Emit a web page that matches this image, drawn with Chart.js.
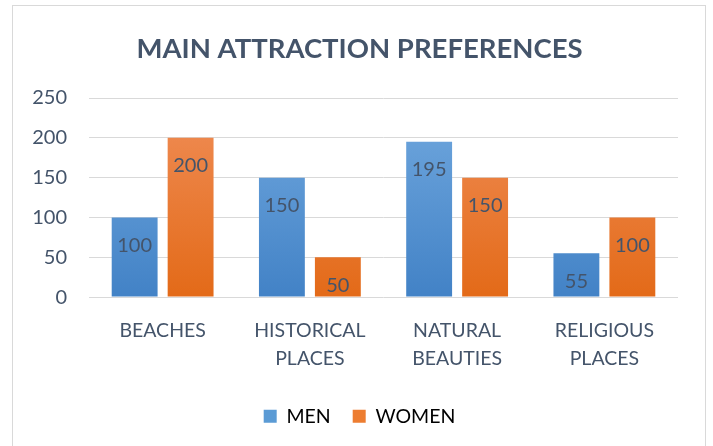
<!DOCTYPE html>
<html lang="en">
<head>
  <meta charset="UTF-8" />
  <title>Main Attraction Preferences</title>
  <style>
    body { margin: 0; background: #fff; }
    .frame {
      position: absolute;
      left: 12px;
      top: 5px;
      width: 692px;
      height: 446px;
      border: 1px solid #d9d9d9;
      background: #fff;
    }
  </style>
</head>
<body>
  <div class="frame"><canvas id="chart"></canvas></div>

  <script src="https://cdn.jsdelivr.net/npm/chart.js"></script>
  <script>
    const categories = ["BEACHES", ["HISTORICAL", "PLACES"], ["NATURAL", "BEAUTIES"], ["RELIGIOUS", "PLACES"]];
    const menValues = [100, 150, 195, 55];
    const womenValues = [200, 50, 150, 100];
    const yTicks = [0, 50, 100, 150, 200, 250];

    const textColor = "#44546a";
    const font = "Lato, 'Open Sans', sans-serif";

    function gradient(ctx, top, bottom) {
      const area = ctx.chart.chartArea;
      if (!area) return bottom;
      const g = ctx.chart.ctx.createLinearGradient(0, area.top, 0, area.bottom);
      g.addColorStop(0, top);
      g.addColorStop(1, bottom);
      return g;
    }

    // value labels drawn a little below the top of each bar
    const barLabels = {
      id: "barLabels",
      afterDatasetsDraw(chart) {
        const c = chart.ctx;
        c.save();
        c.font = "20px " + font;
        c.fillStyle = textColor;
        c.textAlign = "center";
        c.textBaseline = "middle";
        chart.data.datasets.forEach((ds, i) => {
          chart.getDatasetMeta(i).data.forEach((bar, j) => {
            c.fillText(ds.data[j], bar.x, bar.y + 28);
          });
        });
        c.restore();
      }
    };

    // centre title and legend on the whole frame, not just the padded area
    const recentre = {
      id: "recentre",
      afterLayout(chart) {
        chart.titleBlock.left += 28;
        chart.legend.left += 28;
      }
    };

    new Chart(document.getElementById("chart"), {
      type: "bar",
      data: {
        labels: categories,
        datasets: [
          {
            label: "MEN",
            data: menValues,
            backgroundColor: ctx => gradient(ctx, "#72a9df", "#4282c6"),
            categoryPercentage: 0.76,
            barPercentage: 0.82
          },
          {
            label: "WOMEN",
            data: womenValues,
            backgroundColor: ctx => gradient(ctx, "#f08e58", "#e36a18"),
            categoryPercentage: 0.76,
            barPercentage: 0.82
          }
        ]
      },
      options: {
        responsive: true,
        maintainAspectRatio: false,
        animation: false,
        layout: { padding: { left: 0, right: 27, top: 27, bottom: 16 } },
        plugins: {
          title: {
            display: true,
            text: "MAIN ATTRACTION PREFERENCES",
            color: textColor,
            font: { family: font, size: 27.5, weight: "bold" },
            padding: { top: 0, bottom: 32 }
          },
          legend: {
            position: "bottom",
            labels: {
              color: textColor,
              font: { family: font, size: 19.5 },
              boxWidth: 13,
              boxHeight: 13,
              padding: 22,
              generateLabels(chart) {
                return chart.data.datasets.map((ds, i) => ({
                  text: ds.label,
                  fillStyle: i === 0 ? "#5b9bd5" : "#ed7d31",
                  strokeStyle: "transparent",
                  lineWidth: 0,
                  datasetIndex: i
                }));
              }
            }
          },
          tooltip: { enabled: false }
        },
        scales: {
          x: {
            grid: { display: false },
            border: { display: false },
            ticks: {
              color: textColor,
              font: { family: font, size: 19.5, lineHeight: 1.42 },
              padding: 12,
              maxRotation: 0
            }
          },
          y: {
            min: 0,
            max: 250,
            afterBuildTicks: axis => { axis.ticks = yTicks.map(v => ({ value: v })); },
            afterFit: axis => { axis.width = 76; },
            grid: { color: "#d9d9d9", lineWidth: 1, drawTicks: false },
            border: { display: false },
            ticks: {
              color: textColor,
              font: { family: font, size: 20 },
              padding: 22
            }
          }
        }
      },
      plugins: [barLabels, recentre]
    });
  </script>
</body>
</html>
